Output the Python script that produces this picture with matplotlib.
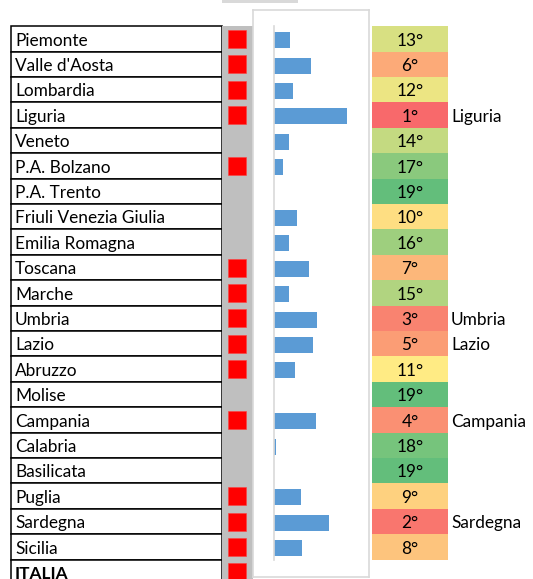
import matplotlib.pyplot as plt
import numpy as np
from matplotlib.patches import Rectangle

plt.rcParams['font.family'] = ['Lato', 'DejaVu Sans']

regioni = ["Piemonte", "Valle d'Aosta", "Lombardia", "Liguria", "Veneto",
           "P.A. Bolzano", "P.A. Trento", "Friuli Venezia Giulia", "Emilia Romagna",
           "Toscana", "Marche", "Umbria", "Lazio", "Abruzzo", "Molise", "Campania",
           "Calabria", "Basilicata", "Puglia", "Sardegna", "Sicilia"]
valori = [16.5, 37.8, 19.2, 73.2, 15.7, 9.2, 0, 23.8, 15.1, 35.8, 15.4,
          43.2, 39.2, 21.8, 0, 42.8, 2.2, 0, 27.5, 55.0, 28.5]
posizione = [13, 6, 12, 1, 14, 17, 19, 10, 16, 7, 15, 3, 5, 11, 19, 4, 18, 19, 9, 2, 8]
# red flag per row, last one is ITALIA
flag = [1, 1, 1, 1, 0, 1, 0, 0, 0, 1, 1, 1, 1, 1, 0, 1, 0, 0, 1, 1, 1, 1]

W, H = 533, 579
fig = plt.figure(figsize=(W/100, H/100), dpi=100)
fig.patch.set_facecolor('white')

def px_axes(x0, x1, y0, y1, z=1):
    a = fig.add_axes([x0/W, 1 - y1/H, (x1 - x0)/W, (y1 - y0)/H], zorder=z)
    return a

top = 26.3
rh = 25.4
n = len(regioni) + 1
fs = 12.4

# strip at the very top
fig.patches.append(Rectangle((222/W, 1 - 2.5/H), 76/W, 2.5/H, transform=fig.transFigure,
                             facecolor='#d9d9d9', edgecolor='none'))

# names table
ax = px_axes(10.7, 222.3, top, top + n*rh)
ax.set_xlim(0, 1)
ax.set_ylim(n, 0)
ax.axis('off')
nomi = regioni + ["ITALIA"]
for i, nome in enumerate(nomi):
    ax.add_patch(Rectangle((0, i), 1, 1, facecolor='white', edgecolor='black',
                           lw=1.1, clip_on=False))
    ax.text(0.02, i + 0.56, nome, va='center', ha='left', fontsize=fs,
            fontweight='bold' if nome == "ITALIA" else 'normal')

# gray column with red squares
ax2 = px_axes(222.3, 253.3, top, top + n*rh)
ax2.set_facecolor('#bfbfbf')
ax2.set_xlim(0, 1)
ax2.set_ylim(n, 0)
for s in ax2.spines.values():
    s.set_visible(False)
ax2.set_xticks([])
ax2.set_yticks([])
yy = np.arange(n)
fl = np.array(flag) == 1
ax2.scatter(np.full(fl.sum(), 0.46), yy[fl] + 0.5, marker='s', s=150,
            color='#ff0000', edgecolors='#ff4040', linewidths=0.4)

# chart box
box = px_axes(253.3, 369.3, 9.7, 577, z=2)
box.set_xticks([])
box.set_yticks([])
for s in box.spines.values():
    s.set_color('#d9d9d9')
    s.set_linewidth(1.2)

# bars
ax3 = px_axes(273.5, 365, top, top + len(regioni)*rh, z=3)
ax3.patch.set_alpha(0)
ax3.barh(np.arange(len(regioni)) + 0.55, valori, height=0.63, color='#5b9bd5')
ax3.set_xlim(0, 91.5)
ax3.set_ylim(len(regioni), 0)
ax3.set_xticks([])
ax3.set_yticks([])
for k in ['top', 'right', 'bottom']:
    ax3.spines[k].set_visible(False)
ax3.spines['left'].set_color('#d9d9d9')
ax3.spines['left'].set_linewidth(1.2)

# rank cells, excel 3-colour scale
rosso = np.array([0xF8, 0x69, 0x6B]) / 255
giallo = np.array([0xFF, 0xEB, 0x84]) / 255
verde = np.array([0x63, 0xBE, 0x7B]) / 255
p = np.array(posizione, dtype=float)
lo, mid, hi = p.min(), np.percentile(p, 50), p.max()
colori = []
for v in p:
    if v <= mid:
        t = (v - lo) / (mid - lo)
        colori.append(rosso + t*(giallo - rosso))
    else:
        t = (v - mid) / (hi - mid)
        colori.append(giallo + t*(verde - giallo))

ax4 = px_axes(372, 448, top, top + len(regioni)*rh)
ax4.set_xlim(0, 1)
ax4.set_ylim(len(regioni), 0)
ax4.axis('off')
ax4.barh(np.arange(len(regioni)) + 0.5, 1, height=1, color=colori)
for i, (v, nome) in enumerate(zip(posizione, regioni)):
    ax4.text(0.5, i + 0.56, f"{v}°", ha='center', va='center', fontsize=fs)
    if v <= 5:
        ax4.text(1.04, i + 0.56, nome, ha='left', va='center', fontsize=fs,
                 clip_on=False)

fig.savefig("out.png", dpi=100)
